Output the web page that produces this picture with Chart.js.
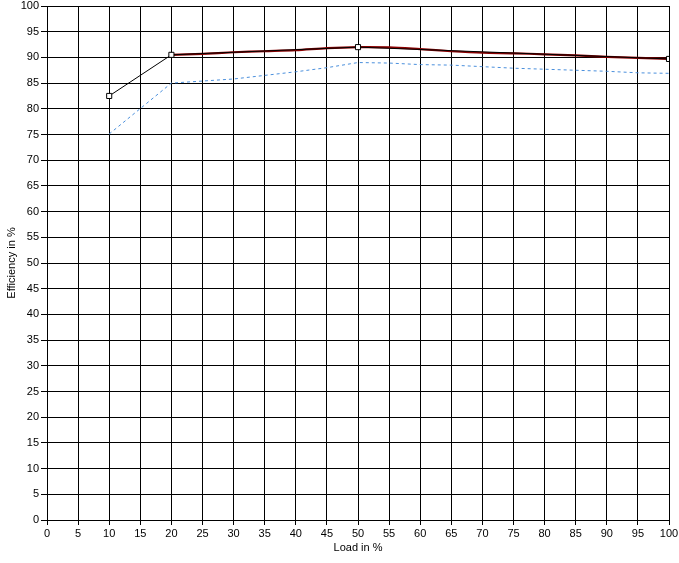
<!DOCTYPE html>
<html>
<head>
<meta charset="utf-8">
<script src="https://cdn.jsdelivr.net/npm/chart.js@4/dist/chart.umd.min.js"></script>
<style>
  html, body { margin: 0; padding: 0; background: #fff; }
  #wrap { width: 679px; height: 563px; position: relative; }
</style>
</head>
<body>
<div id="wrap"><canvas id="chart-eff" width="679" height="563"></canvas></div>
<script>
// measured points (black, square markers)
const measLoad = [10, 20, 50, 100];
const measEff  = [82.5, 90.5, 92.0, 89.7];
// fitted curve (dark red)
const fitLoad = [20, 25, 30, 35, 40, 45, 50, 55, 60, 65, 70, 75, 80, 85, 90, 95, 100];
const fitEff  = [90.5, 90.7, 91.0, 91.2, 91.4, 91.8, 92.0, 91.95, 91.6, 91.2, 90.9, 90.8, 90.6, 90.4, 90.1, 89.9, 89.7];
// reference curve (blue dashed)
const refLoad = [10, 20, 30, 40, 45, 50, 55, 60, 65, 70, 75, 80, 85, 90, 95, 100];
const refEff  = [75.1, 85.0, 85.8, 87.2, 88.0, 89.0, 88.9, 88.6, 88.5, 88.2, 87.9, 87.7, 87.5, 87.3, 87.0, 86.9];

const xyPairs = (xs, ys) => xs.map((x, i) => ({ x, y: ys[i] }));
const FONT = { family: '"Liberation Sans", Arial, sans-serif', size: 11 };

new Chart(document.getElementById('chart-eff'), {
  type: 'line',
  data: {
    datasets: [
      { label: 'Measured', data: xyPairs(measLoad, measEff), borderColor: '#000', borderWidth: 1,
        pointStyle: 'rect', pointRadius: 3.6, pointBackgroundColor: '#fff', pointBorderColor: '#000', pointBorderWidth: 1 },
      { label: 'Fit', data: xyPairs(fitLoad, fitEff), borderColor: '#8b0000', borderWidth: 2.2,
        pointRadius: 0, tension: 0.3 },
      { label: 'Reference', data: xyPairs(refLoad, refEff), borderColor: '#4a8fdc', borderWidth: 1,
        borderDash: [3, 3], pointRadius: 0 },
    ]
  },
  options: {
    responsive: false, animation: false,
    layout: { padding: { top: 6, right: 10, left: 5, bottom: 8 } },
    plugins: { legend: { display: false }, tooltip: { enabled: false } },
    scales: {
      x: {
        type: 'linear', min: 0, max: 100,
        ticks: { stepSize: 5, color: '#000', font: FONT, padding: 2, maxRotation: 0, autoSkip: false },
        grid: { color: '#000', lineWidth: 1, tickLength: 5, tickColor: '#000' },
        border: { color: '#000', width: 1 },
        title: { display: true, text: 'Load in %', color: '#000', font: FONT, padding: { top: 2, bottom: 0 } },
        afterFit: s => { s.height = 35; s.paddingLeft = 0; s.paddingRight = 0; }
      },
      y: {
        min: 0, max: 100,
        ticks: { stepSize: 5, color: '#000', font: FONT, padding: 2 },
        grid: { color: '#000', lineWidth: 1, tickLength: 6, tickColor: '#000' },
        border: { color: '#000', width: 1 },
        title: { display: true, text: 'Efficiency in %', color: '#000', font: FONT, padding: { top: 0, bottom: 4 } },
        afterFit: s => { s.width = 42; s.paddingTop = 0; s.paddingBottom = 0; }
      }
    }
  }
});
</script>
</body>
</html>
